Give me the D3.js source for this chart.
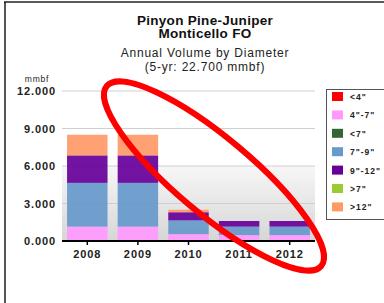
<!DOCTYPE html>
<html><head><meta charset="utf-8">
<script src="https://cdn.jsdelivr.net/npm/d3@7"></script>
<style>body{margin:0;background:#fff}svg{display:block}text{font-family:"Liberation Sans",Arial,sans-serif}</style>
</head><body><svg id="c" width="384" height="303"></svg>
<script>
const years = ["2008","2009","2010","2011","2012"];
const seriesNames = ['<4"','4"-7"','<7"','7"-9"','9"-12"','>7"','>12"'];
const seriesColors = ["#ff0000","#ff99ff","#336633","#6699cc","#660099","#99cc33","#ff9966"];
const vLt4   = [0,0,0,0,0];
const v4to7  = [1.15,1.15,0.55,0.47,0.47];
const vLt7   = [0,0,0,0,0];
const v7to9  = [3.5,3.5,1.1,0.68,0.68];
const v9to12 = [2.2,2.2,0.65,0.45,0.45];
const vGt7   = [0,0,0,0,0];
const vGt12  = [1.65,1.65,0.2,0,0];
const yTicks = [0,3,6,9,12];
const seriesValues = [vLt4,v4to7,vLt7,v7to9,v9to12,vGt7,vGt12];

const svg = d3.select("#c");
const W=384,H=303;
// frame
svg.append("line").attr("x1",5).attr("x2",5).attr("y1",2).attr("y2",H).attr("stroke","#555").attr("stroke-width",2);
svg.append("line").attr("x1",4).attr("x2",W).attr("y1",2).attr("y2",2).attr("stroke","#222").attr("stroke-width",1.5);

const x = d3.scaleBand().domain(years).range([62,315]).paddingInner(0.2).paddingOuter(0.1);
const y = d3.scaleLinear().domain([0,12]).range([241,91]);

// background gradient
const defs = svg.append("defs");
const g = defs.append("linearGradient").attr("id","bg").attr("x1",0).attr("x2",0).attr("y1",0).attr("y2",1);
g.append("stop").attr("offset","0%").attr("stop-color","#f7f7f7");
g.append("stop").attr("offset","100%").attr("stop-color","#d6d6d6");
svg.append("rect").attr("x",62).attr("width",253).attr("y",y(6)).attr("height",y(0)-y(6)).attr("fill","url(#bg)");

// gridlines
svg.selectAll(".grid").data(yTicks.filter(d=>d>0)).enter().append("line")
  .attr("x1",62).attr("x2",315).attr("y1",d=>y(d)).attr("y2",d=>y(d)).attr("stroke","#cfcfcf").attr("stroke-width",1);

// stacked bars
const rows = years.map((yr,i)=>{const o={year:yr}; seriesNames.forEach((s,j)=>o[s]=seriesValues[j][i]); return o;});
const stack = d3.stack().keys(seriesNames)(rows);
svg.selectAll(".ser").data(stack).enter().append("g").attr("fill",(d,i)=>seriesColors[i])
  .selectAll("rect").data(d=>d).enter().append("rect")
  .attr("x",d=>x(d.data.year)).attr("width",x.bandwidth())
  .attr("y",d=>y(d[1])).attr("height",d=>Math.max(0,y(d[0])-y(d[1])))
  .attr("opacity",0.92);

// axis line
svg.append("line").attr("x1",62).attr("x2",315).attr("y1",y(0)).attr("y2",y(0)).attr("stroke","#000").attr("stroke-width",2);
svg.selectAll(".tk").data(years).enter().append("line")
  .attr("x1",d=>x(d)+x.bandwidth()/2).attr("x2",d=>x(d)+x.bandwidth()/2)
  .attr("y1",y(0)).attr("y2",y(0)+4).attr("stroke","#000").attr("stroke-width",1.5);

// y labels
svg.selectAll(".yl").data(yTicks).enter().append("text")
  .attr("x",56).attr("y",d=>y(d)+4).attr("text-anchor","end")
  .attr("font-size",11).attr("font-weight","bold").attr("letter-spacing",0.9).attr("fill","#222")
  .text(d=>d3.format(".3f")(d));
svg.append("text").attr("x",37).attr("y",82).attr("text-anchor","middle").attr("font-size",8.5).attr("letter-spacing",0.8).attr("fill","#222").text("mmbf");

// x labels
svg.selectAll(".xl").data(years).enter().append("text")
  .attr("x",d=>x(d)+x.bandwidth()/2).attr("y",258).attr("text-anchor","middle")
  .attr("font-size",11).attr("font-weight","bold").attr("letter-spacing",0.9).attr("fill","#222").text(d=>d);

// titles
svg.append("text").attr("x",205).attr("y",24.5).attr("text-anchor","middle").attr("font-size",13.5).attr("font-weight","bold").attr("letter-spacing",0.3).attr("fill","#111").text("Pinyon Pine-Juniper");
svg.append("text").attr("x",205).attr("y",38).attr("text-anchor","middle").attr("font-size",13.5).attr("font-weight","bold").attr("letter-spacing",0.3).attr("fill","#111").text("Monticello FO");
svg.append("text").attr("x",205).attr("y",57).attr("text-anchor","middle").attr("font-size",12).attr("letter-spacing",0.8).attr("fill","#222").text("Annual Volume by Diameter");
svg.append("text").attr("x",205).attr("y",71).attr("text-anchor","middle").attr("font-size",12).attr("letter-spacing",0.8).attr("fill","#222").text("(5-yr: 22.700 mmbf)");

// legend
svg.append("rect").attr("x",326.5).attr("y",89.5).attr("width",60).attr("height",130).attr("fill","#fff").attr("stroke","#555").attr("stroke-width",1);
const lg = svg.selectAll(".lg").data(seriesNames).enter().append("g")
  .attr("transform",(d,i)=>`translate(332,${97+i*18.4})`);
lg.append("rect").attr("x",0).attr("y",-5).attr("width",11).attr("height",9).attr("fill",(d,i)=>seriesColors[i]);
lg.append("text").attr("x",18).attr("y",3).attr("font-size",8.5).attr("font-weight","bold").attr("letter-spacing",1).attr("fill","#222").text(d=>d);

// red annotation ellipse
svg.append("ellipse").attr("cx",214).attr("cy",176).attr("rx",140).attr("ry",38)
  .attr("transform","rotate(40,214,176)").attr("fill","none").attr("stroke","#ff0000").attr("stroke-width",6);
</script></body></html>
